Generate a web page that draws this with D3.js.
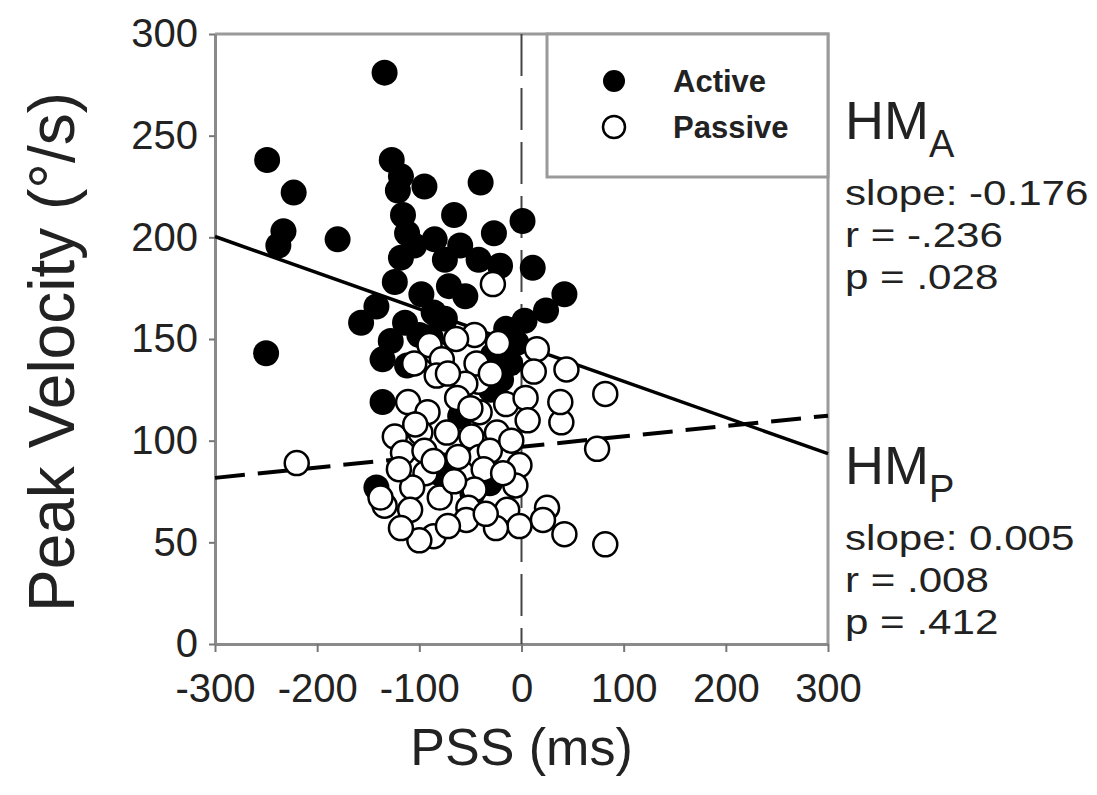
<!DOCTYPE html>
<html>
<head>
<meta charset="utf-8">
<script src="https://cdn.jsdelivr.net/npm/d3@7"></script>
<style>
  body { margin: 0; background: #fff; }
  text { font-family: "Liberation Sans", Arial, sans-serif; }
</style>
</head>
<body>
<svg id="chart" width="1097" height="795"></svg>
<script>
"use strict";

// tick values
const xTicks = [ -300, -200, -100, 0, 100, 200, 300 ];
const yTicks = [ 0, 50, 100, 150, 200, 250, 300 ];

// [PSS (ms), peak velocity (deg/s)]
const active = [
  [-134,281], [-249,238], [-223,222], [-233,203], [-238,196], [-180,199], [-127,238],
  [-95,225], [-40,227], [1,208], [-121,223], [-116,211], [-112,202], [-105,196],
  [-85,199], [-66,211], [-27,202], [-75,189], [-60,196], [-42,189], [-21,186],
  [-124,178], [11,185], [-157,158], [-142,166], [-98,172], [-71,176], [-55,171],
  [3,159], [-114,158], [-86,163], [42,172], [24,164], [-89,151], [-128,149],
  [-136,140], [-112,137], [-136,119], [-142,77], [-80,84], [-60,112], [-31,79],
  [-250,143], [-11,138], [-20,130], [-5,148], [-28,142], [-15,155], [-30,125],
  [-48,74], [-100,152], [-75,160], [-118,190], [-118,230]
];
const passive = [
  [-28,177], [-46,152], [-23,148], [15,145], [-83,143], [-64,150], [-90,147],
  [-78,140], [-83,132], [-42,129], [-44,138], [12,134], [44,135], [-55,128],
  [-63,121], [-15,118], [4,121], [-111,119], [-92,114], [-41,114], [6,110],
  [39,109], [38,119], [82,123], [-124,102], [-99,104], [-73,104], [-49,102],
  [-24,104], [-116,94], [-95,95], [-41,92], [-31,95], [-2,88], [74,96],
  [-94,84], [-37,86], [-107,77], [-6,78], [-46,76], [-80,72], [-52,67],
  [-134,68], [-109,66], [-138,72], [-14,66], [25,67], [21,61], [-54,61],
  [-2,58], [-25,57], [-86,53], [-100,51], [42,54], [82,49], [-220,89],
  [-105,138], [-72,133], [-30,133], [-10,100], [-62,92], [-86,90], [-120,86],
  [-66,80], [-18,84], [-72,58], [-118,57], [-35,64], [-50,116], [-104,108]
];

// regression lines: active, passive
const fitIntercept = [ 147, 97 ];
const fitSlope     = [ -0.178, 0.051 ];

// legend and annotation texts
const legendNames = [ 'Active', 'Passive' ];
const groupNames  = [ 'A', 'P' ];
const groupStats  = [
  [ 'slope: -0.176', 'r = -.236', 'p = .028' ],
  [ 'slope: 0.005',  'r = .008',  'p = .412' ]
];

const svg = d3.select('#chart');
svg.append('rect').attr('width', 1097).attr('height', 795).attr('fill', '#fff');

const box = { left: 215, right: 828, top: 34, bottom: 644 };

const x = d3.scaleLinear().domain([ -300, 300 ]).range([ box.left, box.right ]);
const y = d3.scaleLinear().domain([ 0, 300 ]).range([ box.bottom, box.top ]);

// frame (top + right)
svg.append('path')
   .attr('d', `M${box.left},${box.top}H${box.right}V${box.bottom}`)
   .attr('fill', 'none')
   .attr('stroke', '#9a9a9a')
   .attr('stroke-width', 3);

// x-axis
const gx = svg.append('g')
   .attr('transform', `translate(0,${box.bottom})`)
   .call( d3.axisBottom(x).tickValues(xTicks).tickSize(8).tickPadding(22).tickSizeOuter(0) );

// y-axis
const gy = svg.append('g')
   .attr('transform', `translate(${box.left},0)`)
   .call( d3.axisLeft(y).tickValues(yTicks).tickSize(6).tickPadding(11).tickSizeOuter(0) );

[ gx, gy ].forEach( (g) => {
  g.attr('font-family', null).attr('font-size', null);
  g.select('.domain').attr('stroke', '#8a8a8a').attr('stroke-width', 3);
  g.selectAll('.tick line').attr('stroke', '#777').attr('stroke-width', 2);
  g.selectAll('.tick text').attr('fill', '#222').style('font-size', '40px');
});
gx.selectAll('.tick text').text( (d) => d < 0 ? '-' + Math.abs(d) : d );

// vertical reference line at 0
svg.append('line')
   .attr('x1', x(0)).attr('x2', x(0))
   .attr('y1', box.top).attr('y2', box.bottom)
   .attr('stroke', '#444')
   .attr('stroke-width', 2)
   .attr('stroke-dasharray', '42,12');

// legend box
svg.append('rect')
   .attr('x', 547).attr('y', box.top)
   .attr('width', box.right - 547).attr('height', 143)
   .attr('fill', '#fff')
   .attr('stroke', '#9a9a9a')
   .attr('stroke-width', 3);

// active dots
svg.append('g')
  .selectAll('circle')
  .data(active)
  .enter().append('circle')
    .attr('cx', (d) => x(d[0]))
    .attr('cy', (d) => y(d[1]))
    .attr('r', 13)
    .attr('fill', '#000');

// regression lines
const lineGen = d3.line().x( (d) => x(d[0]) ).y( (d) => y(d[1]) );
fitIntercept.forEach( (b, i) => {
  const pts = [ -300, 300 ].map( (v) => [ v, b + fitSlope[i] * v ] );
  svg.append('path')
     .attr('d', lineGen(pts))
     .attr('fill', 'none')
     .attr('stroke', '#000')
     .attr('stroke-width', i === 0 ? 3.5 : 4)
     .attr('stroke-dasharray', i === 0 ? null : '30,13');
});

// passive dots
svg.append('g')
  .selectAll('circle')
  .data(passive)
  .enter().append('circle')
    .attr('cx', (d) => x(d[0]))
    .attr('cy', (d) => y(d[1]))
    .attr('r', 12)
    .attr('fill', '#fff')
    .attr('stroke', '#000')
    .attr('stroke-width', 2.5);

// legend entries
const leg = svg.append('g')
  .selectAll('g')
  .data(legendNames)
  .enter().append('g')
    .attr('transform', (d, i) => `translate(614,${81 + i * 46})`);
leg.append('circle')
   .attr('r', 11)
   .attr('fill', (d, i) => i === 0 ? '#000' : '#fff')
   .attr('stroke', '#000')
   .attr('stroke-width', (d, i) => i === 0 ? 0 : 2.5);
leg.append('text')
   .attr('x', 59)
   .attr('dy', '0.36em')
   .attr('fill', '#222')
   .style('font-size', '31px')
   .style('font-weight', 'bold')
   .text( (d) => d );

// axis titles
svg.append('text')
   .attr('x', x(0)).attr('y', 765)
   .attr('text-anchor', 'middle')
   .attr('fill', '#222')
   .style('font-size', '52px')
   .text('PSS (ms)');
svg.append('text')
   .attr('transform', 'translate(74,352) rotate(-90)')
   .attr('text-anchor', 'middle')
   .attr('fill', '#222')
   .style('font-size', '64px')
   .text('Peak Velocity (°/s)');

// right-hand annotations
const annoTop = [ 139, 484 ];
groupNames.forEach( (g, i) => {
  const t = svg.append('text')
     .attr('x', 845).attr('y', annoTop[i])
     .attr('fill', '#222')
     .style('font-size', '54px');
  t.append('tspan').text('HM');
  t.append('tspan').attr('dy', 18).style('font-size', '38px').text(g);

  svg.append('g')
    .selectAll('text')
    .data(groupStats[i])
    .enter().append('text')
      .attr('transform', (d, k) => `translate(845,${annoTop[i] + 66 + k * 42}) scale(1.17,1)`)
      .attr('fill', '#222')
      .style('font-size', '36px')
      .text( (d) => d );
});
</script>
</body>
</html>
